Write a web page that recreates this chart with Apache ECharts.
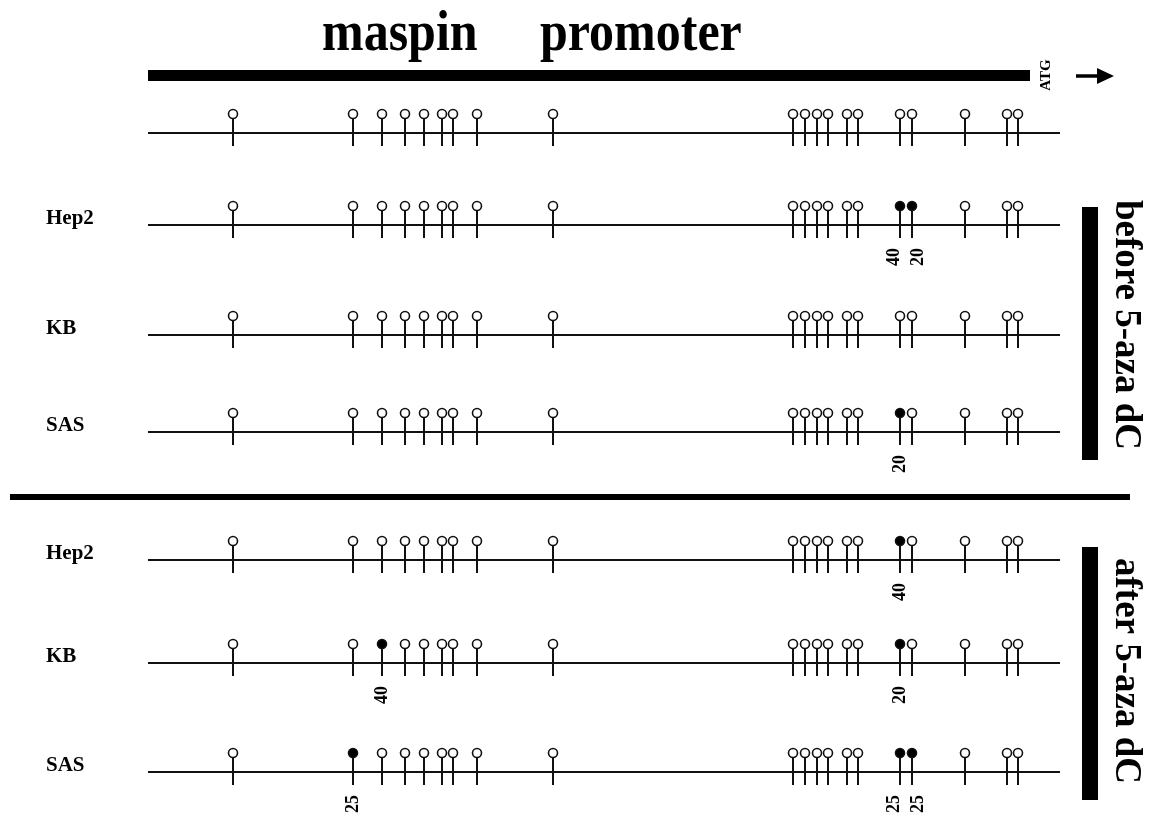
<!DOCTYPE html>
<html>
<head>
<meta charset="utf-8">
<script src="https://cdn.jsdelivr.net/npm/echarts@6/dist/echarts.min.js"></script>
<style>
html,body{margin:0;padding:0;background:#fff;}
#chart{width:1153px;height:817px;}
</style>
</head>
<body>
<div id="chart"></div>
<script>
// ---- data ----
// relative positions of CpG sites along the maspin promoter (arbitrary units)
const cpgSites = [85, 205, 234, 257, 276, 294, 305, 329, 405, 645, 657, 669, 680, 699, 710, 752, 764, 817, 859, 870];
const rowNames = ['', 'Hep2', 'KB', 'SAS', 'Hep2', 'KB', 'SAS'];
// methylated sites per row: [site index, % methylation]
const referenceMeth = [];
const hep2BeforeMeth = [[15, 40], [16, 20]];
const kbBeforeMeth = [];
const sasBeforeMeth = [[15, 20]];
const hep2AfterMeth = [[15, 40]];
const kbAfterMeth = [[2, 40], [15, 20]];
const sasAfterMeth = [[1, 25], [15, 25], [16, 25]];
const rowMeth = [referenceMeth, hep2BeforeMeth, kbBeforeMeth, sasBeforeMeth, hep2AfterMeth, kbAfterMeth, sasAfterMeth];

// ---- layout ----
const rowY = [133, 225, 335, 432, 560, 663, 772];
const axisMax = 912;
const FONT = '"Liberation Serif", "DejaVu Serif", serif';

// build series data: [position, row, % methylated, neighbour flag]
const lollipopData = [];
rowMeth.forEach((meth, r) => {
  cpgSites.forEach((s, i) => {
    const m = meth.find(d => d[0] === i);
    const prevM = meth.some(d => d[0] === i - 1) && i > 0 && s - cpgSites[i - 1] < 16;
    const nextM = meth.some(d => d[0] === i + 1) && i < cpgSites.length - 1 && cpgSites[i + 1] - s < 16;
    lollipopData.push([s, r, m ? m[1] : 0, nextM ? -1 : (prevM ? 1 : 0)]);
  });
});
const rowData = rowNames.map((n, r) => [r]);

function renderRow(params, api) {
  const r = api.value(0);
  const a = api.coord([0, rowY[r]]);
  const b = api.coord([axisMax, rowY[r]]);
  const children = [{
    type: 'line',
    shape: {x1: a[0], y1: a[1], x2: b[0], y2: b[1]},
    style: {stroke: '#111', lineWidth: 2}
  }];
  if (rowNames[r]) {
    children.push({
      type: 'text', x: a[0] - 102, y: a[1] - 6,
      style: {text: rowNames[r], font: 'bold 21px ' + FONT, fill: '#000',
        align: 'left', verticalAlign: 'middle', textAlign: 'left', textVerticalAlign: 'middle'}
    });
  }
  return {type: 'group', children};
}

function renderLollipop(params, api) {
  const x = api.value(0), r = api.value(1), pct = api.value(2), side = api.value(3);
  const p = api.coord([x, rowY[r]]);
  const children = [
    {type: 'line', shape: {x1: p[0], y1: p[1] - 14, x2: p[0], y2: p[1] + 13},
      style: {stroke: '#111', lineWidth: 2}},
    {type: 'circle', shape: {cx: p[0], cy: p[1] - 19, r: 4.5},
      style: {fill: pct > 0 ? '#000' : '#fff', stroke: '#111', lineWidth: 1.6}}
  ];
  if (pct > 0) {
    children.push({
      type: 'text', x: p[0] + side * 6, y: p[1] + 32, rotation: Math.PI / 2,
      style: {text: String(pct), font: 'bold 18px ' + FONT, fill: '#000',
        align: 'center', verticalAlign: 'middle', textAlign: 'center', textVerticalAlign: 'middle'}
    });
  }
  return {type: 'group', children};
}

const chart = echarts.init(document.getElementById('chart'));
chart.setOption({
  backgroundColor: '#fff',
  animation: false,
  grid: {left: 148, right: 93, top: 0, bottom: 0},
  xAxis: {type: 'value', min: 0, max: axisMax, show: false},
  yAxis: {type: 'value', min: 0, max: 817, inverse: true, show: false},
  graphic: [
    {type: 'text', left: 322, top: 6, scaleY: 1.15,
      style: {text: 'maspin', font: 'bold 50px ' + FONT, fill: '#000'}},
    {type: 'text', left: 540, top: 6, scaleY: 1.15,
      style: {text: 'promoter', font: 'bold 50px ' + FONT, fill: '#000'}},
    {type: 'rect', shape: {x: 148, y: 70, width: 882, height: 11}, style: {fill: '#000'}},
    {type: 'text', x: 1046, y: 75, rotation: Math.PI / 2,
      style: {text: 'ATG', font: 'bold 15px ' + FONT, fill: '#000',
        align: 'center', verticalAlign: 'middle', textAlign: 'center', textVerticalAlign: 'middle'}},
    {type: 'line', shape: {x1: 1076, y1: 76, x2: 1100, y2: 76}, style: {stroke: '#000', lineWidth: 3.5}},
    {type: 'polygon', shape: {points: [[1097, 68], [1114, 76], [1097, 84]]}, style: {fill: '#000'}},
    {type: 'rect', shape: {x: 10, y: 494, width: 1120, height: 6}, style: {fill: '#000'}},
    {type: 'rect', shape: {x: 1082, y: 207, width: 16, height: 253}, style: {fill: '#000'}},
    {type: 'rect', shape: {x: 1082, y: 547, width: 16, height: 253}, style: {fill: '#000'}},
    {type: 'text', x: 1126, y: 325, rotation: -Math.PI / 2,
      style: {text: 'before 5-aza dC', font: 'bold 37px ' + FONT, fill: '#000',
        align: 'center', verticalAlign: 'middle', textAlign: 'center', textVerticalAlign: 'middle'}},
    {type: 'text', x: 1126, y: 671, rotation: -Math.PI / 2,
      style: {text: 'after 5-aza dC', font: 'bold 37px ' + FONT, fill: '#000',
        align: 'center', verticalAlign: 'middle', textAlign: 'center', textVerticalAlign: 'middle'}}
  ],
  series: [
    {type: 'custom', renderItem: renderRow, data: rowData, silent: true, z: 1},
    {type: 'custom', renderItem: renderLollipop, data: lollipopData, silent: true, z: 2}
  ]
});
</script>
</body>
</html>
